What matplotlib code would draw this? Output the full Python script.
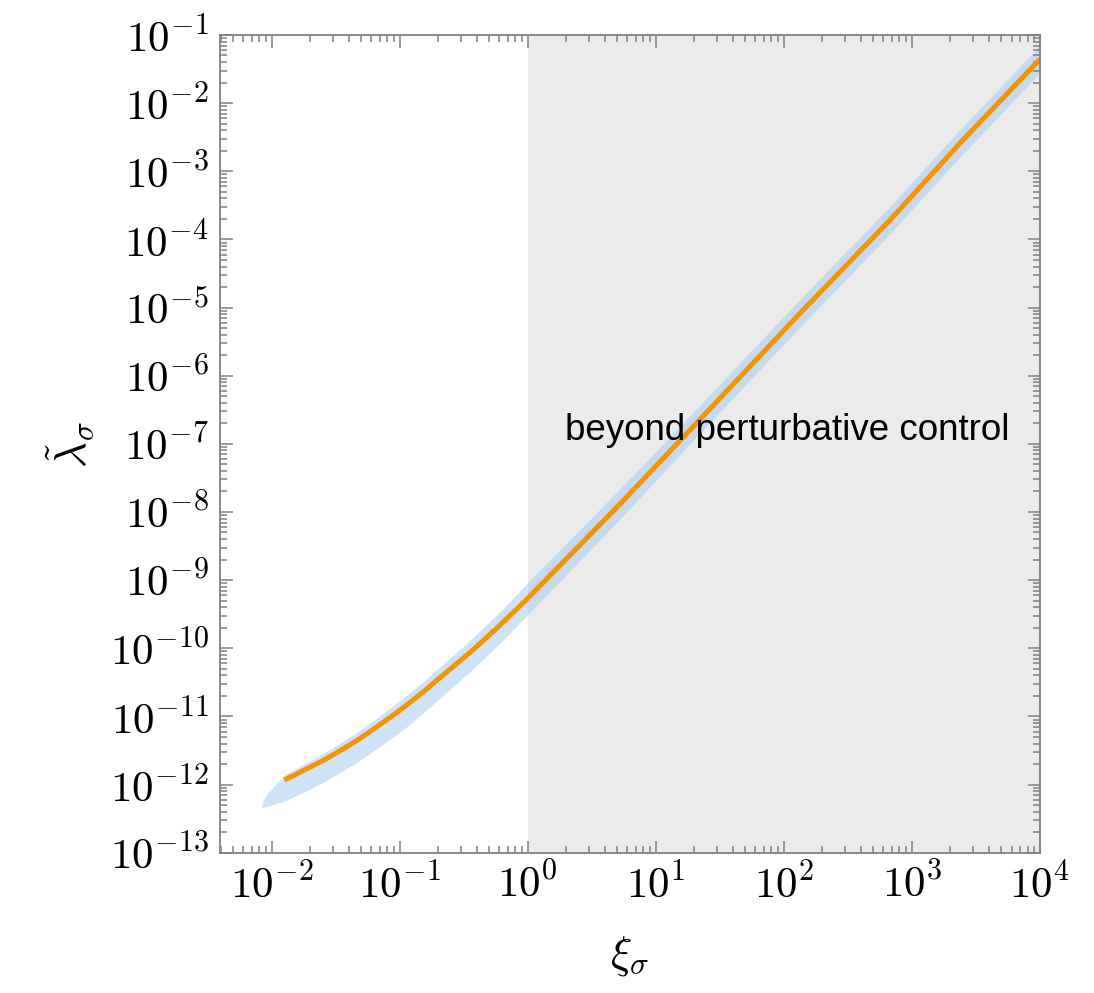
import matplotlib

matplotlib.use("Agg")

import matplotlib.pyplot as plt
import numpy as np
from matplotlib.ticker import FuncFormatter, LogLocator, NullFormatter

# central curve
xi = [0.01256, 0.01879, 0.02535, 0.0342, 0.04624, 0.0622, 0.0841, 0.1135,
      0.1531, 0.2065, 0.2793, 0.3758, 0.631, 1.0, 5.26, 19.6, 134.0, 676.0,
      2382.0, 1.0e4]
lam = [1.164e-12, 1.70e-12, 2.26e-12, 3.13e-12, 4.42e-12, 6.46e-12,
       9.66e-12, 1.47e-11, 2.30e-11, 3.72e-11, 5.96e-11, 9.55e-11, 2.33e-10,
       5.41e-10, 1.31e-8, 1.79e-7, 8.26e-6, 1.93e-4, 2.60e-3, 4.40e-2]

# uncertainty band (upper / lower edge)
band_x = [0.0083, 0.0086, 0.0092, 0.0105, 0.01256, 0.01879, 0.02535, 0.0342,
          0.04624, 0.0622, 0.0841, 0.1135, 0.1531, 0.2065, 0.2793, 0.3758,
          0.631, 1.0, 5.26, 19.6, 134.0, 676.0, 2382.0, 1.0e4]
band_hi = [4.7e-13, 5.9e-13, 7.3e-13, 9.6e-13, 1.40e-12, 2.09e-12, 2.85e-12,
           4.03e-12, 5.82e-12, 8.71e-12, 1.33e-11, 2.05e-11, 3.25e-11,
           5.37e-11, 8.81e-11, 1.45e-10, 3.69e-10, 9.18e-10, 2.2e-8, 2.9e-7,
           1.33e-5, 3.06e-4, 4.12e-3, 6.97e-2]
band_lo = [4.7e-13, 4.65e-13, 4.8e-13, 5.15e-13, 5.70e-13, 8.13e-13,
           1.08e-12, 1.50e-12, 2.11e-12, 3.09e-12, 4.62e-12, 7.03e-12,
           1.13e-11, 1.86e-11, 3.05e-11, 5.01e-11, 1.28e-10, 3.11e-10, 7.9e-9,
           1.13e-7, 5.2e-6, 1.22e-4, 1.64e-3, 2.78e-2]

x_min, x_max = 3.95e-3, 1.0e4
y_min, y_max = 1.0e-13, 1.0e-1
shade_from = 1.0

plt.rcParams["mathtext.fontset"] = "cm"

fig = plt.figure(figsize=(10.94, 9.93), dpi=100)
ax = fig.add_axes([0.2011, 0.1413, 0.7495, 0.8235])

ax.axvspan(shade_from, x_max, color="#ebebeb", linewidth=0, zorder=0)
ax.fill_between(band_x, band_lo, band_hi, color="#a8ccf4", alpha=0.55,
                linewidth=0, zorder=1)
ax.plot(xi, lam, color="#f29500", linewidth=3.6, solid_capstyle="butt",
        zorder=2)

ax.text(106, 1.58e-7, "beyond perturbative control", ha="center",
        va="center", fontsize=26.5, family="Liberation Sans", zorder=3)

ax.set_xscale("log")
ax.set_yscale("log")
ax.set_xlim(x_min, x_max)
ax.set_ylim(y_min, y_max)

power_label = FuncFormatter(lambda v, _: r"$10^{%d}$" % round(np.log10(v)))
for axis in (ax.xaxis, ax.yaxis):
    axis.set_major_locator(LogLocator(base=10, numticks=20))
    axis.set_minor_locator(LogLocator(base=10, subs=np.arange(2, 10), numticks=20))
    axis.set_major_formatter(power_label)
    axis.set_minor_formatter(NullFormatter())

for spine in ax.spines.values():
    spine.set_color("#808080")
    spine.set_linewidth(1.3)
ax.tick_params(which="both", direction="in", top=True, right=True,
               color="#808080", width=1.1)
ax.tick_params(which="major", length=9, labelsize=31, pad=8)
ax.tick_params(which="minor", length=5)

ax.set_xlabel(r"$\xi_\sigma$", fontsize=32, labelpad=20)
ax.set_ylabel(r"$\tilde{\lambda}_\sigma$", fontsize=32, labelpad=10)

fig.savefig("out.png", dpi=100, facecolor="white")
